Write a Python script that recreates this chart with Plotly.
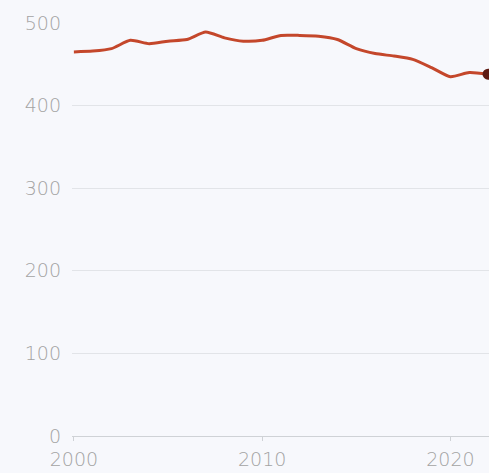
import plotly.graph_objects as go

years = list(range(2000, 2023))
values = [465, 466, 469, 479, 475, 478, 480, 489, 482, 478, 479, 485, 485,
          484, 480, 469, 463, 460, 456, 446, 435, 440, 438]
y_ticks = [0, 100, 200, 300, 400, 500]
x_ticks = [2000, 2010, 2020]

bg = "#f7f8fc"
line_color = "#c4472b"
font = dict(family="DejaVu Sans", size=19, color="#a3a3a3", weight=300)

fig = go.Figure()
fig.add_trace(go.Scatter(
    x=years, y=values, mode="lines",
    line=dict(color=line_color, width=3, shape="spline", smoothing=0.6),
    hoverinfo="skip", showlegend=False,
))
fig.add_trace(go.Scatter(
    x=[years[-1]], y=[values[-1]], mode="markers",
    marker=dict(color="#5e1a12", size=11),
    cliponaxis=False, hoverinfo="skip", showlegend=False,
))

fig.update_layout(
    width=489, height=473,
    margin=dict(l=72, r=0, t=23, b=37),
    paper_bgcolor=bg, plot_bgcolor=bg,
    font=font,
    xaxis=dict(
        range=[1999.9, 2022.05], tickvals=x_ticks, ticktext=[str(v) for v in x_ticks],
        showgrid=False, zeroline=False, showline=True, linecolor="#cfd2d6", linewidth=1,
        ticks="outside", ticklen=4, tickcolor="#cfd2d6", ticklabelstandoff=2,
        tickfont=font,
    ),
    yaxis=dict(
        range=[0, 500], tickvals=y_ticks, ticktext=[str(v) for v in y_ticks],
        showgrid=True, gridcolor="#e2e4e8", gridwidth=1, zeroline=False,
        showline=False, ticks="", ticklabelstandoff=10, tickfont=font,
    ),
)

fig.write_html(
    "out.html",
    config={"displayModeBar": False, "staticPlot": True},
    post_script="document.body.style.margin='0';document.body.style.overflow='hidden';document.body.style.background='" + bg + "';",
)
